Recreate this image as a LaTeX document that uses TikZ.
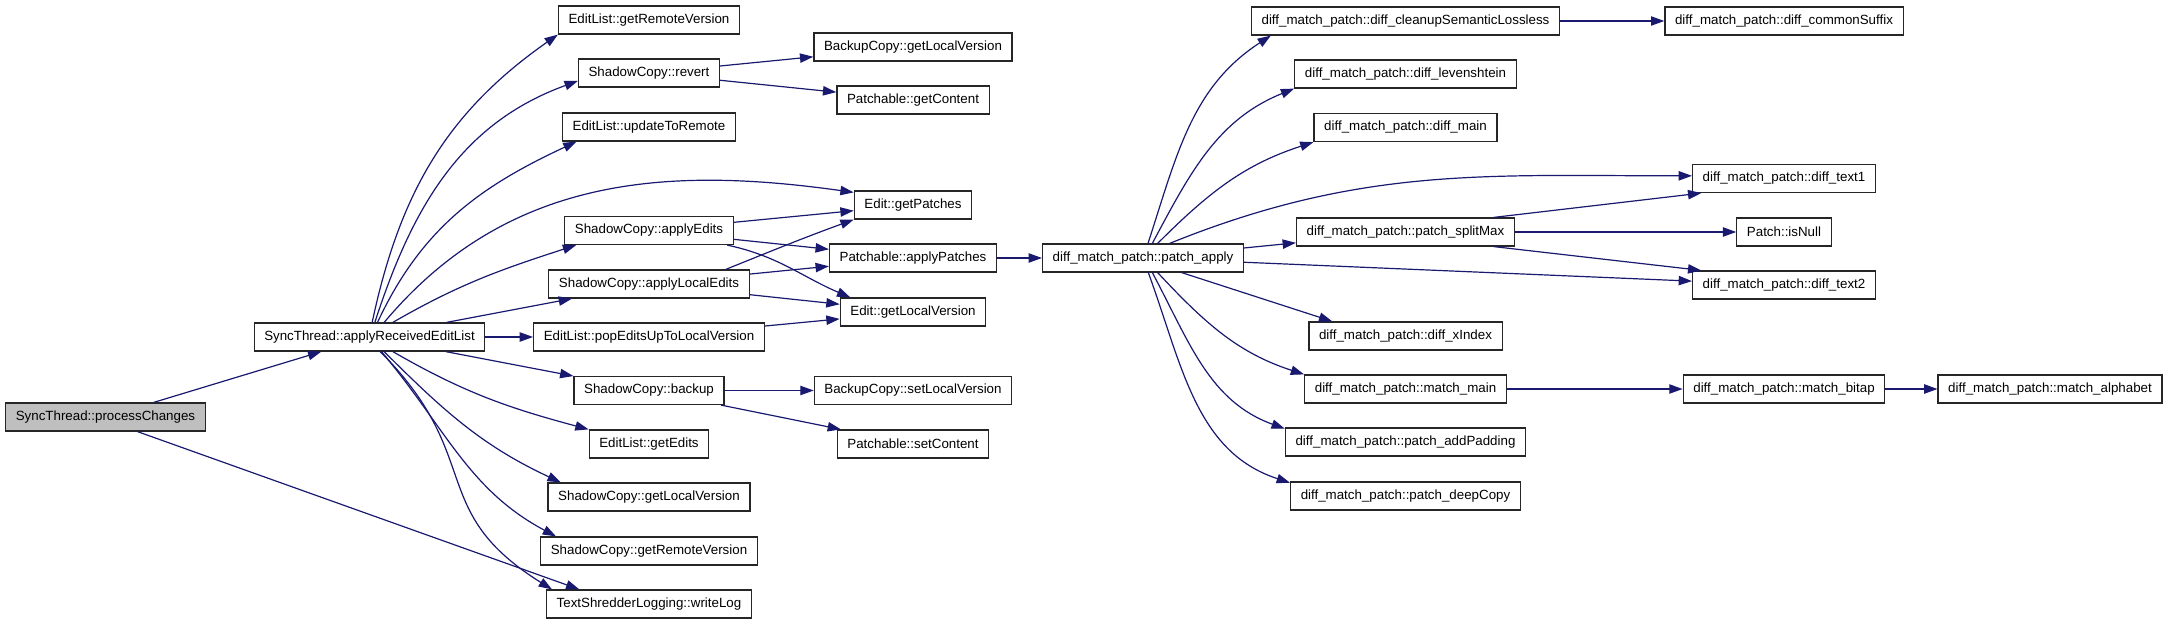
\documentclass[tikz,border=0pt]{standalone}
\usepackage{fontspec}
\setmainfont{Liberation Sans}
\usetikzlibrary{arrows.meta}
\definecolor{edgeblue}{HTML}{191970}
\definecolor{rootgray}{HTML}{BFBFBF}

\begin{document}
\begin{tikzpicture}[
    x=0.75pt, y=0.75pt,
    fn/.style    ={draw=black!85, line width=0.9pt, fill=white, inner xsep=7.6pt,
                   inner ysep=0pt, minimum height=21pt,
                   font=\fontsize{10pt}{12pt}\selectfont},
    rootfn/.style={fn, fill=rootgray},
    arr/.style   ={-{Triangle[length=10pt, width=7pt]}, draw=edgeblue, line width=0.9pt}
]
\useasboundingbox (0,0) rectangle (2181,-624);

%% ── Caller ───────────────────────────────────────────────────────
\node[rootfn] (procch)    at (105.5,-417) {SyncThread::processChanges};
\node[fn]     (applyrecv) at (369.5,-337) {SyncThread::applyReceivedEditList};

%% ── Direct callees of applyReceivedEditList ──────────────────────
\node[fn] (elgetremote)  at (649, -20)   {EditList::getRemoteVersion};
\node[fn] (screvert)     at (649, -73)   {ShadowCopy::revert};
\node[fn] (elupdate)     at (649, -127)  {EditList::updateToRemote};
\node[fn] (scapplyedits) at (649, -230.5){ShadowCopy::applyEdits};
\node[fn] (scapplylocal) at (649, -284)  {ShadowCopy::applyLocalEdits};
\node[fn] (elpopedits)   at (649, -337)  {EditList::popEditsUpToLocalVersion};
\node[fn] (scbackup)     at (649, -390.5){ShadowCopy::backup};
\node[fn] (elgetedits)   at (649, -444)  {EditList::getEdits};
\node[fn] (scgetlocal)   at (649, -497)  {ShadowCopy::getLocalVersion};
\node[fn] (scgetremote)  at (649, -551)  {ShadowCopy::getRemoteVersion};
\node[fn] (tslwritelog)  at (649, -604)  {TextShredderLogging::writeLog};

%% ── Second level ─────────────────────────────────────────────────
\node[fn] (bcgetlocal)   at (913, -47)   {BackupCopy::getLocalVersion};
\node[fn] (ptgetcontent) at (913, -100)  {Patchable::getContent};
\node[fn] (edgetpatches) at (913, -205)  {Edit::getPatches};
\node[fn] (ptapply)      at (913, -258)  {Patchable::applyPatches};
\node[fn] (edgetlocal)   at (913, -312)  {Edit::getLocalVersion};
\node[fn] (bcsetlocal)   at (913, -390.5){BackupCopy::setLocalVersion};
\node[fn] (ptsetcontent) at (913, -444)  {Patchable::setContent};

%% ── diff_match_patch ─────────────────────────────────────────────
\node[fn] (dmpapply)   at (1143, -258)   {diff\_match\_patch::patch\_apply};
\node[fn] (dmpcleanup) at (1405.5, -21)  {diff\_match\_patch::diff\_cleanupSemanticLossless};
\node[fn] (dmplev)     at (1405.5, -74)  {diff\_match\_patch::diff\_levenshtein};
\node[fn] (dmpmain)    at (1405.5, -127.5){diff\_match\_patch::diff\_main};
\node[fn] (dmpsplit)   at (1405.5, -232) {diff\_match\_patch::patch\_splitMax};
\node[fn] (dmpxindex)  at (1405.5, -336) {diff\_match\_patch::diff\_xIndex};
\node[fn] (dmpmatch)   at (1405.5, -389) {diff\_match\_patch::match\_main};
\node[fn] (dmppad)     at (1405.5, -442) {diff\_match\_patch::patch\_addPadding};
\node[fn] (dmpcopy)    at (1405.5, -496) {diff\_match\_patch::patch\_deepCopy};
\node[fn] (dmpsuffix)  at (1784, -21)    {diff\_match\_patch::diff\_commonSuffix};
\node[fn] (dmptext1)   at (1784, -178.5) {diff\_match\_patch::diff\_text1};
\node[fn] (ptnull)     at (1784, -232)   {Patch::isNull};
\node[fn] (dmptext2)   at (1784, -285)   {diff\_match\_patch::diff\_text2};
\node[fn] (dmpbitap)   at (1784, -389)   {diff\_match\_patch::match\_bitap};
\node[fn] (dmpalpha)   at (2050, -389)   {diff\_match\_patch::match\_alphabet};

%% ── processChanges ───────────────────────────────────────────────
\draw[arr] (procch) -- (applyrecv);
\draw[arr] ([xshift=24pt]procch.south) -- ([xshift=25pt]tslwritelog.north west);

%% ── applyReceivedEditList, upwards ───────────────────────────────
\draw[arr] ([xshift=2pt]applyrecv.north)  to[out=78, in=215] (elgetremote.south west);
\draw[arr] ([xshift=4pt]applyrecv.north)  to[out=72, in=200] ([yshift=5pt]screvert.south west);
\draw[arr] ([xshift=6pt]applyrecv.north)  to[out=65, in=205] ([xshift=11pt]elupdate.south west);
\draw[arr] ([xshift=11pt]applyrecv.north) to[out=50, in=172] ([yshift=-1.5pt]edgetpatches.north west);
\draw[arr] ([xshift=17.5pt]applyrecv.north) to[out=30, in=198] ([xshift=9pt]scapplyedits.south west);
\draw[arr] (applyrecv) -- (scapplylocal);
\draw[arr] (applyrecv) -- (elpopedits);

%% ── applyReceivedEditList, downwards ─────────────────────────────
\draw[arr] (applyrecv) -- (scbackup);
\draw[arr] ([xshift=17.5pt]applyrecv.south) to[out=-30, in=165] (elgetedits.north west);
\draw[arr] ([xshift=11pt]applyrecv.south) to[out=-45, in=155] ([xshift=10pt]scgetlocal.north west);
\draw[arr] ([xshift=9pt]applyrecv.south)  to[out=-50, in=152] ([xshift=12pt]scgetremote.north west);
\draw[arr] ([xshift=8pt]applyrecv.south)  to[out=-45, in=148, looseness=1.3] ([xshift=4.5pt]tslwritelog.north west);

%% ── ShadowCopy / EditList callees ────────────────────────────────
\draw[arr] (screvert) -- (bcgetlocal);
\draw[arr] (screvert) -- (ptgetcontent);
\draw[arr] (scapplyedits) -- (edgetpatches);
\draw[arr] (scapplyedits) -- (ptapply);
\draw[arr] ([xshift=-5pt]scapplyedits.south east) to[out=-12, in=157] ([xshift=8pt]edgetlocal.north west);
\draw[arr] ([xshift=-18pt]scapplylocal.north east) to[out=22, in=200] (edgetpatches.south west);
\draw[arr] (scapplylocal) -- (ptapply);
\draw[arr] (scapplylocal) -- (edgetlocal);
\draw[arr] (elpopedits) -- (edgetlocal);
\draw[arr] (scbackup) -- (bcsetlocal);
\draw[arr] (scbackup) -- (ptsetcontent);
\draw[arr] (ptapply) -- (dmpapply);

%% ── patch_apply fan-out ──────────────────────────────────────────
\draw[arr] ([xshift=3.75pt]dmpapply.north) to[out=72, in=213] ([xshift=15pt]dmpcleanup.south west);
\draw[arr] ([xshift=7pt]dmpapply.north)  to[out=62, in=202] (dmplev.south west);
\draw[arr] ([xshift=11pt]dmpapply.north) to[out=45, in=198] (dmpmain.south west);
\draw[arr] ([xshift=20pt]dmpapply.north) to[out=22, in=180] ([yshift=2pt]dmptext1.west);
\draw[arr] (dmpapply) -- (dmpsplit);
\draw[arr] (dmpapply) -- (dmptext2);
\draw[arr] ([xshift=29pt]dmpapply.south) -- ([xshift=18pt]dmpxindex.north west);
\draw[arr] ([xshift=11pt]dmpapply.south) to[out=-47, in=162] (dmpmatch.north west);
\draw[arr] ([xshift=7pt]dmpapply.south)  to[out=-62, in=160] ([yshift=-1pt]dmppad.north west);
\draw[arr] ([xshift=4pt]dmpapply.south)  to[out=-70, in=162] ([yshift=-1pt]dmpcopy.north west);

%% ── Third level ──────────────────────────────────────────────────
\draw[arr] (dmpcleanup) -- (dmpsuffix);
\draw[arr] ([xshift=-16pt]dmpsplit.north east) -- ([xshift=7pt]dmptext1.south west);
\draw[arr] (dmpsplit) -- (ptnull);
\draw[arr] ([xshift=-16pt]dmpsplit.south east) -- ([xshift=7pt]dmptext2.north west);
\draw[arr] (dmpmatch) -- (dmpbitap);
\draw[arr] (dmpbitap) -- (dmpalpha);

\end{tikzpicture}
\end{document}
